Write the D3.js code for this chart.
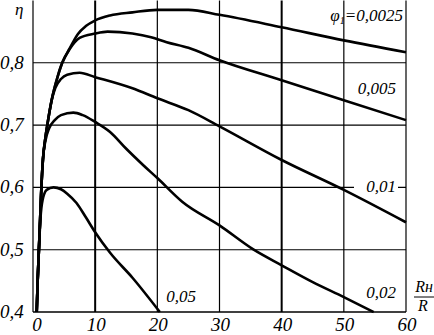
<!DOCTYPE html>
<html lang="en">
<head>
<meta charset="UTF-8">
<title>eta vs Rn/R</title>
<style>
  body { margin: 0; background: #fff; }
</style>
</head>
<body>
<svg id="vis"></svg>
<script src="https://d3js.org/d3.v7.min.js"></script>
<script>
// Data: [Rн/R, η] for each φ1
const seriesNames = ["0,0025", "0,005", "0,01", "0,02", "0,05"]
const s0025 = [[0.6,0.40],[0.75,0.45],[0.95,0.50],[1.15,0.55],[1.35,0.60],[1.6,0.645],[2.0,0.68],[2.3,0.70],[3.0,0.74],[3.8,0.772],[4.7,0.80],[5.9,0.823],[7.2,0.846],[8.5,0.859],[10,0.868],[12.4,0.876],[16,0.881],[20,0.885],[25,0.885],[30,0.877],[40,0.857],[50,0.836],[60,0.817]]
const s005 = [[0.6,0.40],[0.75,0.45],[0.95,0.50],[1.15,0.55],[1.35,0.60],[1.6,0.645],[2.0,0.68],[2.3,0.70],[3.0,0.74],[3.8,0.772],[4.7,0.80],[5.9,0.822],[7.5,0.840],[10,0.847],[12,0.850],[16,0.847],[19,0.841],[21.5,0.833],[25,0.824],[30,0.804],[40,0.772],[50,0.740],[60,0.708]]
const s01 = [[0.6,0.40],[0.75,0.45],[0.95,0.50],[1.15,0.55],[1.35,0.60],[1.6,0.645],[2.0,0.68],[2.3,0.70],[3.0,0.74],[3.6,0.760],[4.5,0.774],[5.5,0.781],[7.5,0.784],[10,0.777],[16,0.759],[20,0.743],[25,0.724],[30,0.698],[40,0.644],[50,0.596],[60,0.544]]
const s02 = [[0.6,0.40],[0.75,0.45],[0.95,0.50],[1.15,0.55],[1.35,0.60],[1.6,0.645],[2.0,0.675],[2.6,0.695],[3.5,0.708],[4.5,0.716],[6.5,0.720],[8,0.716],[10,0.705],[12.4,0.689],[15,0.662],[17.7,0.636],[20,0.615],[24,0.577],[30,0.539],[35.5,0.500],[40,0.475],[45,0.448],[50,0.424],[54.8,0.400]]
const s05 = [[0.6,0.40],[0.75,0.45],[0.95,0.50],[1.2,0.55],[1.55,0.58],[2.2,0.596],[3.3,0.600],[4.5,0.597],[5.5,0.590],[7,0.575],[8.5,0.552],[10,0.528],[12.4,0.495],[16,0.455],[20.4,0.400]]
const allSeries = [s0025, s005, s01, s02, s05]

const xTicks = [0, 10, 20, 30, 40, 50, 60]
const yTicks = [0.4, 0.5, 0.6, 0.7, 0.8]

const width = 434, height = 335
const serif = '"Liberation Serif"'
const svg = d3.select('#vis').attr('width', width).attr('height', height)

const x = d3.scaleLinear().domain([0, 60]).range([33, 406])
const y = d3.scaleLinear().domain([0.4, 0.9]).range([312, 0.5])

const fmt = v => String(v).replace('.', ',')

// Grid
svg.append('g').selectAll('line').data(xTicks).join('line')
  .attr('x1', d => x(d)).attr('x2', d => x(d))
  .attr('y1', y(0.9)).attr('y2', y(0.4))
  .attr('stroke', '#000')
  .attr('stroke-width', d => (d === 10 || d === 40) ? 2 : 1.2)

svg.append('g').selectAll('line').data(yTicks).join('line')
  .attr('x1', x(0)).attr('x2', x(60))
  .attr('y1', d => y(d)).attr('y2', d => y(d))
  .attr('stroke', '#000')
  .attr('stroke-width', d => d === 0.4 ? 1.5 : 1.1)

// white patch behind the 0,01 label
svg.append('rect').attr('x', 354).attr('y', 180).attr('width', 44).attr('height', 16).attr('fill', '#fff')

// Curves
const line = d3.line()
  .x(d => x(d[0]))
  .y(d => y(d[1]))
  .curve(d3.curveMonotoneX)

svg.append('g').selectAll('path').data(allSeries).join('path')
  .attr('d', line)
  .attr('fill', 'none')
  .attr('stroke', '#000')
  .attr('stroke-width', 2.6)

// all texts: italic Times-like
const txt = (sel) => sel.attr('font-family', serif).attr('font-style', 'italic')

// Tick labels
svg.append('g').selectAll('text').data(xTicks).join('text')
  .call(txt)
  .attr('x', d => x(d) + (d === 0 ? 4 : 1))
  .attr('y', 331)
  .attr('text-anchor', 'middle')
  .attr('font-size', 19)
  .text(d => d)

svg.append('g').selectAll('text').data(yTicks).join('text')
  .call(txt)
  .attr('x', 0)
  .attr('y', d => y(d) + 6)
  .attr('font-size', 19)
  .text(d => fmt(d))

// Axis names
svg.append('text').call(txt).attr('x', 15).attr('y', 15).attr('font-size', 17).text('η')
svg.append('text').call(txt).attr('x', 424).attr('y', 292).attr('text-anchor', 'middle').attr('font-size', 16).text('Rн')
svg.append('line').attr('x1', 414).attr('x2', 434).attr('y1', 297).attr('y2', 297).attr('stroke', '#000').attr('stroke-width', 1)
svg.append('text').call(txt).attr('x', 423).attr('y', 311).attr('text-anchor', 'middle').attr('font-size', 16).text('R')

// Series labels
const lab = svg.append('g')
const t0 = lab.append('text').call(txt).attr('font-size', 17).attr('x', 403).attr('y', 21).attr('text-anchor', 'end')
t0.append('tspan').text('φ')
t0.append('tspan').attr('font-size', 10).attr('dy', 3).text('1')
t0.append('tspan').attr('dy', -3).text('=' + seriesNames[0])
lab.append('text').call(txt).attr('font-size', 17).attr('x', 396).attr('y', 94).attr('text-anchor', 'end').text(seriesNames[1])
lab.append('text').call(txt).attr('font-size', 17).attr('x', 396).attr('y', 192).attr('text-anchor', 'end').text(seriesNames[2])
lab.append('text').call(txt).attr('font-size', 17).attr('x', 396).attr('y', 298).attr('text-anchor', 'end').text(seriesNames[3])
lab.append('text').call(txt).attr('font-size', 17).attr('x', 196).attr('y', 302).attr('text-anchor', 'end').text(seriesNames[4])
</script>
</body>
</html>
